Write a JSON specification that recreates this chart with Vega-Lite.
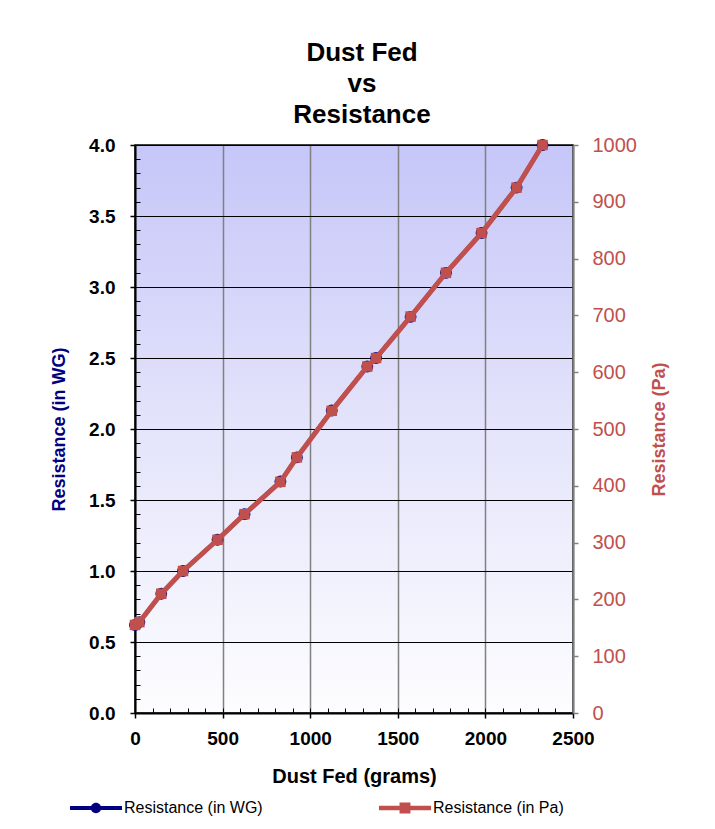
{
  "$schema": "https://vega.github.io/schema/vega-lite/v6.json",
  "width": 438,
  "height": 568,
  "autosize": {"type": "none"},
  "padding": {"left": 135, "top": 145, "right": 142, "bottom": 116},
  "background": "white",
  "view": {
    "fill": {"gradient": "linear", "x1": 0, "y1": 0, "x2": 0, "y2": 1, "stops": [{"offset": 0, "color": "#c6c6f9"}, {"offset": 0.5, "color": "#e4e4fb"}, {"offset": 1, "color": "#fdfdff"}]},
    "stroke": "#000",
    "strokeWidth": 1.5
  },
  "title": {
    "text": ["Dust Fed", "vs", "Resistance"],
    "font": "Liberation Sans",
    "fontSize": 26,
    "fontWeight": "bold",
    "lineHeight": 31,
    "anchor": "middle",
    "offset": 7,
    "dx": 8,
    "color": "#000"
  },
  "datasets": {
    "pts": [
      {"grams": 0, "wg": 0.62, "pa": 155},
      {"grams": 25, "wg": 0.64, "pa": 160},
      {"grams": 150, "wg": 0.84, "pa": 210},
      {"grams": 274, "wg": 1.0, "pa": 250},
      {"grams": 471, "wg": 1.22, "pa": 305},
      {"grams": 625, "wg": 1.4, "pa": 350},
      {"grams": 830, "wg": 1.63, "pa": 407},
      {"grams": 924, "wg": 1.8, "pa": 450},
      {"grams": 1123, "wg": 2.13, "pa": 532},
      {"grams": 1326, "wg": 2.44, "pa": 610},
      {"grams": 1376, "wg": 2.5, "pa": 625},
      {"grams": 1573, "wg": 2.79, "pa": 698},
      {"grams": 1775, "wg": 3.1, "pa": 775},
      {"grams": 1978, "wg": 3.38, "pa": 845},
      {"grams": 2178, "wg": 3.7, "pa": 925},
      {"grams": 2326, "wg": 4.0, "pa": 1000}
    ]
  },
  "data": {"name": "pts"},
  "layer": [
    {
      "mark": {"type": "line", "strokeWidth": 4},
      "encoding": {
        "x": {"field": "grams", "type": "quantitative", "scale": {"domain": [0, 2500], "nice": false, "zero": false},
          "axis": {"orient": "bottom", "values": [0,100,200,300,400,500,600,700,800,900,1000,1100,1200,1300,1400,1500,1600,1700,1800,1900,2000,2100,2200,2300,2400,2500], "labels": false, "domain": false, "grid": false, "tickSize": -5, "tickWidth": 1, "tickColor": "#000", "title": null}},
        "y": {"field": "wg", "type": "quantitative", "scale": {"domain": [0, 4], "nice": false, "zero": false},
          "axis": {"orient": "left", "values": [0,0.1,0.2,0.3,0.4,0.5,0.6,0.7,0.8,0.9,1,1.1,1.2,1.3,1.4,1.5,1.6,1.7,1.8,1.9,2,2.1,2.2,2.3,2.4,2.5,2.6,2.7,2.8,2.9,3,3.1,3.2,3.3,3.4,3.5,3.6,3.7,3.8,3.9,4], "labels": false, "domain": false, "grid": false, "tickSize": -5, "tickWidth": 1, "tickColor": "#000", "title": null}},
        "color": {
          "datum": "Resistance (in WG)",
          "type": "nominal",
          "scale": {"domain": ["Resistance (in WG)", "Resistance (in Pa)"], "range": ["#000080", "#c0504d"]},
          "legend": {
            "title": null,
            "orient": "none",
            "direction": "horizontal",
            "legendX": -65,
            "legendY": 637,
            "padding": 0,
            "symbolSize": 2704,
            "symbolStrokeWidth": 0,
            "labelOffset": 2,
            "labelFontSize": 16,
            "labelFont": "Liberation Sans",
            "labelColor": "#000",
            "labelLimit": 300,
            "columnPadding": 116,
            "encode": {
              "symbols": {
                "update": {
                  "shape": {"signal": "datum.value === 'Resistance (in WG)' ? 'M-1,-0.08H1V0.08H-1Z M-0.2,0A0.2,0.2 0 1,1 0.2,0A0.2,0.2 0 1,1 -0.2,0Z' : 'M-1,-0.09H1V0.09H-1Z M-0.21,-0.21H0.21V0.21H-0.21Z'"},
                  "fill": {"signal": "datum.value === 'Resistance (in WG)' ? '#000080' : '#c0504d'"},
                  "fillOpacity": {"value": 1},
                  "strokeWidth": {"value": 0}
                }
              }
            }
          }
        }
      }
    },
    {
      "mark": {"type": "point", "shape": "circle", "filled": true, "size": 140, "color": "#000080", "opacity": 1},
      "encoding": {
        "x": {"field": "grams", "type": "quantitative", "scale": {"domain": [0, 2500], "nice": false, "zero": false},
          "axis": {"orient": "bottom", "values": [0, 500, 1000, 1500, 2000, 2500], "format": "d", "labelFlush": false, "labelFontSize": 19, "grid": true, "gridColor": "#808080", "gridWidth": 1.5, "tickSize": 5, "tickWidth": 1.5, "domainWidth": 2, "domainColor": "#000", "labelPadding": 11, "title": "Dust Fed (grams)", "titleFontSize": 20, "titlePadding": 18}},
        "y": {"field": "wg", "type": "quantitative", "scale": {"domain": [0, 4], "nice": false, "zero": false},
          "axis": {"orient": "left", "values": [0, 0.5, 1, 1.5, 2, 2.5, 3, 3.5, 4], "format": ".1f", "labelFontSize": 19, "grid": true, "gridColor": "#000", "gridWidth": 1, "tickSize": 5, "tickWidth": 1.5, "domainWidth": 2, "domainColor": "#000", "labelPadding": 15, "title": "Resistance (in WG)", "titleColor": "#000080", "titlePadding": 20}}
      }
    },
    {
      "mark": {"type": "line", "strokeWidth": 5},
      "encoding": {
        "x": {"field": "grams", "type": "quantitative", "scale": {"domain": [0, 2500], "nice": false, "zero": false}, "axis": null},
        "y": {"field": "pa", "type": "quantitative", "scale": {"domain": [0, 1000], "nice": false, "zero": false},
          "axis": {"orient": "right", "values": [0,100,200,300,400,500,600,700,800,900,1000], "format": "d", "grid": false, "tickSize": 5, "tickWidth": 1.5, "tickColor": "#808080", "domainColor": "#808080", "domainWidth": 2, "labelColor": "#c0504d", "labelFontWeight": "normal", "labelFontSize": 20, "labelPadding": 14, "title": "Resistance (Pa)", "titleColor": "#c0504d", "titleAngle": 270, "titleBaseline": "top", "titlePadding": 14}},
        "color": {"datum": "Resistance (in Pa)", "type": "nominal"}
      }
    },
    {
      "mark": {"type": "point", "shape": "square", "filled": true, "size": 110, "color": "#c0504d", "opacity": 1},
      "encoding": {
        "x": {"field": "grams", "type": "quantitative", "scale": {"domain": [0, 2500], "nice": false, "zero": false}, "axis": null},
        "y": {"field": "pa", "type": "quantitative", "scale": {"domain": [0, 1000], "nice": false, "zero": false}, "axis": null}
      }
    }
  ],
  "resolve": {"scale": {"y": "independent"}, "axis": {"x": "independent", "y": "independent"}},
  "config": {
    "font": "Liberation Sans",
    "axis": {"labelFont": "Liberation Sans", "titleFont": "Liberation Sans", "labelFontSize": 16, "labelFontWeight": "bold", "labelColor": "#000", "titleFontSize": 18, "titleFontWeight": "bold", "titleColor": "#000", "tickColor": "#000", "domainColor": "#000"},
    "legend": {"labelFont": "Liberation Sans", "labelFontSize": 16, "labelColor": "#000"}
  }
}
